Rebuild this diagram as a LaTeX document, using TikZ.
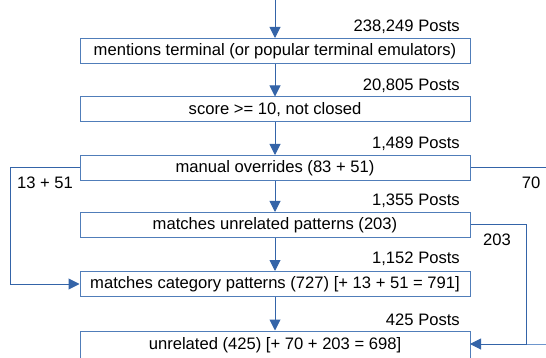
\documentclass[tikz,border=0pt]{standalone}
\usepackage{fontspec}
\setmainfont{Liberation Sans}
\usetikzlibrary{arrows.meta}
\definecolor{linec}{RGB}{52,100,168}
\definecolor{boxc}{RGB}{80,125,185}
\definecolor{lightc}{RGB}{110,150,205}
\begin{document}
\begin{tikzpicture}[x=1pt,y=-1pt,
  box/.style={draw=boxc, line width=1pt, minimum width=390pt, minimum height=25pt, inner sep=0pt, font=\fontsize{16.6}{18}\selectfont},
  flow/.style={draw=linec, line width=1pt, -{Triangle[length=11pt,width=11pt]}},
  conn/.style={draw=linec, line width=1pt},
  lbl/.style={inner sep=0pt, font=\fontsize{16.6}{18}\selectfont}]
\useasboundingbox (0,0) rectangle (546,358);
\node[box] (b1) at (275,51) {mentions terminal (or popular terminal emulators)};
\node[box] (b2) at (275,109.5) {score >= 10, not closed};
\node[box] (b3) at (275,168) {manual overrides (83 + 51)};
\node[box] (b4) at (275,225) {matches unrelated patterns (203)};
\node[box] (b5) at (275,284) {matches category patterns (727) [+ 13 + 51 = 791]};
\node[box, minimum height=29pt] (b6) at (275,345.5) {unrelated (425) [+ 70 + 203 = 698]};
\node[lbl, anchor=east] (p1) at (460,27) {238,249 Posts};
\node[lbl, anchor=east] (p2) at (460,86) {20,805 Posts};
\node[lbl, anchor=east] (p3) at (460,144) {1,489 Posts};
\node[lbl, anchor=east] (p4) at (460,201) {1,355 Posts};
\node[lbl, anchor=east] (p5) at (460,259) {1,152 Posts};
\node[lbl, anchor=east] (p6) at (460,320) {425 Posts};
\node[lbl] (l1) at (45,183) {13 + 51};
\node[lbl] (l2) at (531,183) {70};
\node[lbl] (l3) at (497,240) {203};
\coordinate (top) at (275,0);
\coordinate (out70) at (546,168);
\coordinate (in70) at (546,344);
\coordinate (join) at (525,344);
\coordinate (tip6) at (470,344);
\draw[flow] (top) -- (b1.north);
\draw[flow] (b1.south) -- (b2.north);
\draw[flow] (b2.south) -- (b3.north);
\draw[flow] (b3.south) -- (b4.north);
\draw[flow] (b4.south) -- (b5.north);
\draw[flow] (b5.south) -- (b6.north);
\draw[flow] (b3.west) -- ++(-69,0) |- (b5.west);
\draw[conn] (b3.east) -- (out70);
\draw[draw=lightc, line width=1pt] (in70) -- (join);
\draw[flow] (b4.east) -- ++(56,0) |- (tip6);
\end{tikzpicture}
\end{document}
